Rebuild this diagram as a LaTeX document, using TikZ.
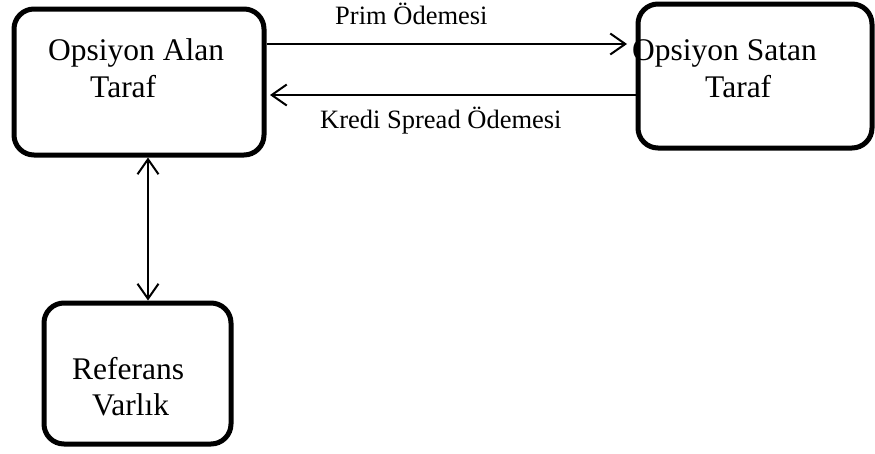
\documentclass[tikz,border=0pt]{standalone}
\usepackage{fontspec}
\setmainfont{Liberation Serif}
\usetikzlibrary{arrows.meta}
\begin{document}
\begin{tikzpicture}[x=1pt,y=-1pt,
  box/.style={draw=black,line width=5pt,rounded corners=20pt,inner sep=0pt},
  boxtext/.style={inner sep=0pt,anchor=base west,font=\fontsize{31.5}{37}\selectfont},
  lbl/.style={inner sep=0pt,anchor=base west,font=\fontsize{26.5}{30}\selectfont},
  tip/.style={Straight Barb[length=15pt,width=21pt,line width=2pt]},
  arr/.style={line width=2pt,-{Straight Barb[length=15pt,width=21pt,line width=2pt]}},
  darr/.style={line width=2pt,{Straight Barb[length=15pt,width=21pt,line width=2pt]}-{Straight Barb[length=15pt,width=21pt,line width=2pt]}}]
\useasboundingbox (0,0) rectangle (875,453);
% texts
\node[boxtext] (a1) at (48,60) {Opsiyon Alan};
\node[boxtext] (a2) at (90,97) {Taraf};
\node[boxtext] (b1) at (632,60) {Opsiyon Satan};
\node[boxtext] (b2) at (705,97) {Taraf};
\node[boxtext] (c1) at (72,379) {Referans};
\node[boxtext] (c2) at (92,415) {Varlık};
% boxes
\node[box,minimum width=250pt,minimum height=146pt] (A) at (139,82) {};
\node[box,minimum width=234pt,minimum height=144pt] (B) at (755,76) {};
\node[box,minimum width=187pt,minimum height=141pt] (C) at (137.5,373.5) {};
% helper coordinates
\coordinate (y1) at (0,44);
\coordinate (y2) at (0,95);
\coordinate (vx) at (148,0);
\coordinate (t1) at (627,44);
\coordinate (t2) at (270,95);
% connectors
\draw[arr] (A.east |- y1) -- (t1);
\draw[arr] (B.west |- y2) -- (t2);
\draw[darr] (A.south -| vx) -- (C.north -| vx);
% labels
\node[lbl] (p) at (335,24) {Prim Ödemesi};
\node[lbl] (k) at (320,128) {Kredi Spread Ödemesi};
\end{tikzpicture}
\end{document}
